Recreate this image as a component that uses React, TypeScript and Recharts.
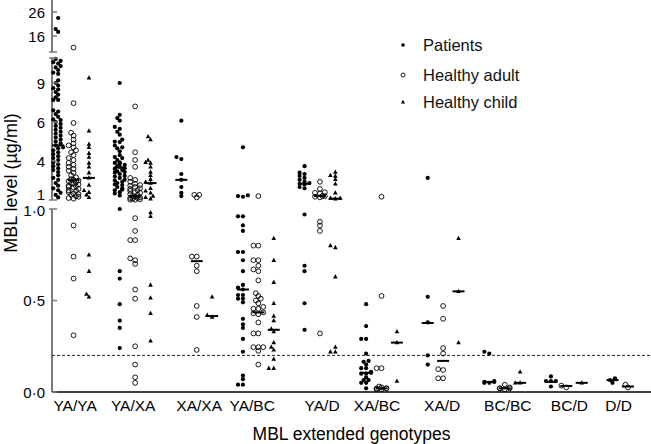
import React from 'react'
import { ScatterChart, Scatter, XAxis, YAxis, ReferenceLine, Legend } from 'recharts'

const FONT = '"Liberation Sans", Arial, Helvetica, sans-serif'

const genotypes = ['YA/YA', 'YA/XA', 'XA/XA', 'YA/BC', 'YA/D', 'XA/BC', 'XA/D', 'BC/BC', 'BC/D', 'D/D']
// where the genotype names sit along the x axis (column units)
const genotypeLabelAt = [1.1, 4.87, 9.16, 12.6, 17.14, 20.71, 24.94, 29.2, 33.2, 36.4]

// MBL level (µg/ml), one list per genotype
const patients = [
    [23.5, 18.9, 17.7, 10.85, 10.7, 10.6, 10.5, 10.3, 10.2, 10.0, 9.8, 9.7, 9.2, 9.0, 8.8, 8.6, 8.5, 8.3, 8.1, 7.9, 7.7, 7.7,
        6.9, 6.8, 6.6, 6.4, 6.2, 6.15, 6.0, 5.9, 5.8, 5.7, 5.6, 5.5, 5.4, 5.3, 5.2, 5.1, 5.0, 4.9, 4.8, 4.7, 4.65, 4.55, 4.45,
        4.35, 4.25, 4.15, 4.05, 3.9, 3.75, 3.6, 3.45, 3.3, 3.15, 2.9, 2.7, 2.55, 2.3, 2.1, 1.9, 1.75, 1.55, 1.4, 1.2],
    [9.0, 6.55, 6.3, 6.1, 5.75, 5.65, 5.5, 5.35, 5.1, 5.0, 4.97, 4.8, 4.7, 4.65, 4.5, 4.3, 4.2, 4.15, 4.05, 3.9, 3.85, 3.8,
        3.7, 3.6, 3.55, 3.45, 3.4, 3.3, 3.2, 3.15, 3.1, 3.0, 2.85, 2.8, 2.7, 2.55, 2.5, 2.4, 2.3, 2.2, 2.15, 2.0, 1.9, 1.8,
        1.75, 1.6, 1.5, 1.35, 1.0, 0.66, 0.62, 0.48, 0.39, 0.35, 0.24],
    [6.1, 4.2, 4.1, 3.0, 2.55, 2.0, 1.55, 1.3],
    [4.7, 1.35, 1.3, 1.25, 0.96, 0.96, 0.91, 0.88, 0.765, 0.765, 0.72, 0.66, 0.585, 0.57, 0.56, 0.53, 0.53, 0.51, 0.51,
        0.49, 0.4, 0.37, 0.35, 0.29, 0.22, 0.09, 0.07, 0.04, 0.04],
    [3.6, 3.1, 3.0, 2.85, 2.7, 2.55, 2.4, 2.3, 2.25, 2.2, 2.0, 1.9, 0.97, 0.69, 0.66, 0.485, 0.34],
    [0.48, 0.36, 0.29, 0.29, 0.21, 0.17, 0.165, 0.15, 0.13, 0.13, 0.11, 0.105, 0.1, 0.1, 0.08, 0.065, 0.065, 0.05, 0.05, 0.02],
    [2.7, 0.52, 0.38, 0.2, 0.15],
    [0.22, 0.21, 0.06, 0.055, 0.055, 0.05, 0.05],
    [0.085, 0.06, 0.06, 0.06, 0.03],
    [0.075, 0.065, 0.05],
]

const adults = [
    [11.2, 7.45, 5.95, 5.45, 5.3, 5.1, 4.9, 4.8, 4.7, 4.55, 4.45, 4.3, 4.15, 4.05, 3.85, 3.7, 3.55, 3.4, 3.25, 3.1, 2.9,
        2.75, 2.6, 2.55, 2.5, 2.45, 2.4, 2.3, 2.25, 2.2, 2.1, 2.05, 2.0, 1.95, 1.85, 1.75, 1.7, 1.6, 1.5, 1.45, 1.4, 1.3,
        1.25, 1.15, 1.1, 0.91, 0.74, 0.62, 0.31],
    [7.2, 4.45, 4.05, 3.55, 2.7, 2.55, 2.4, 2.25, 2.15, 2.1, 2.0, 1.9, 1.85, 1.75, 1.7, 1.6, 1.55, 1.45, 1.4, 1.3, 1.25,
        1.2, 1.15, 1.15, 1.1, 1.05, 1.02, 1.02, 0.95, 0.88, 0.83, 0.83, 0.73, 0.72, 0.7, 0.56, 0.51, 0.25, 0.15, 0.08, 0.05],
    [1.4, 1.4, 1.2, 0.74, 0.74, 0.69, 0.66, 0.47, 0.41, 0.23],
    [1.3, 0.8, 0.8, 0.72, 0.72, 0.69, 0.67, 0.66, 0.61, 0.54, 0.525, 0.51, 0.5, 0.485, 0.465, 0.455, 0.455, 0.435, 0.43,
        0.425, 0.38, 0.32, 0.32, 0.245, 0.245, 0.245, 0.225, 0.15],
    [2.4, 1.85, 1.6, 1.55, 1.5, 1.3, 1.3, 1.25, 1.2, 0.93, 0.91, 0.88, 0.32],
    [1.25, 0.525, 0.13, 0.13, 0.03, 0.025, 0.02, 0.02, 0.02, 0.015, 0.015],
    [0.47, 0.4, 0.24, 0.21, 0.125, 0.12, 0.075, 0.075],
    [0.04, 0.025, 0.02, 0.02, 0.02, 0.015],
    [0.035, 0.025],
    [0.04, 0.025],
]

const children = [
    [9.4, 5.55, 4.87, 4.7, 4.4, 4.2, 3.85, 3.55, 3.1, 2.7, 2.15, 1.75, 1.6, 1.4, 1.2, 0.75, 0.66, 0.535, 0.52],
    [5.25, 5.1, 4.05, 3.9, 3.85, 3.55, 3.15, 2.9, 2.6, 2.4, 2.3, 1.9, 1.7, 1.55, 1.3, 1.2, 1.1, 0.98, 0.96, 0.585,
        0.515, 0.43, 0.28],
    [0.52, 0.42, 0.41],
    [0.84, 0.72, 0.6, 0.485, 0.415, 0.39, 0.345, 0.33, 0.27, 0.245, 0.23, 0.18, 0.13, 0.13],
    [3.15, 2.9, 2.85, 2.6, 2.25, 1.55, 1.15, 1.15, 1.1, 0.8, 0.79, 0.63, 0.245, 0.22, 0.22],
    [0.33, 0.27, 0.06],
    [0.84, 0.55, 0.27],
    [0.11, 0.05, 0.05],
    [0.05],
    [],
]

const patientMedians = [4.8, 3.5, 2.55, 0.56, 2.25, 0.105, 0.377, 0.055, 0.055, 0.065]
const adultMedians = [2.55, 1.3, 0.715, 0.435, 1.3, 0.02, 0.17, 0.02, 0.033, 0.03]
const childMedians = [2.7, 2.3, 0.415, 0.34, 1.1, 0.27, 0.55, 0.05, 0.05, null]

const cutoff = 0.2

// y axis ticks: value + which piece of the broken axis it belongs to
const yTickValues = [0, 0.5, 1.0, 1, 4, 6, 9, 16, 26]
const yTickLabels = ['0·0', '0·5', '1·0', '1', '4', '6', '9', '16', '26']
const yTickPiece = ['low', 'low', 'low', 'mid', 'mid', 'mid', 'mid', 'top', 'top']

// ---- broken axis: three pieces stacked on one axis (units ~ px) ----
const MID_KNOTS: [number, number][] = [[1, 192], [4, 231], [6, 270], [9, 309]]
const pieceOf = (v: number) => (v <= 1.0 ? 'low' : v < 10.95 ? 'mid' : 'top')
function toAxis(v: number, piece = pieceOf(v)) {
    if (piece === 'low') return v * 183
    if (piece === 'top') return 356 + (v - 16) * 2.4
    if (v >= 9) return 309 + (v - 9) * 13
    for (let i = 0; i < MID_KNOTS.length - 1; i++) {
        const [a, pa] = MID_KNOTS[i]
        const [b, pb] = MID_KNOTS[i + 1]
        if (v <= b) return pa + ((v - a) / (b - a)) * (pb - pa)
    }
    return 309
}
const AXIS_PIECES: [number, number][] = [[0, 183], [192, 334], [340, 392]]
const BREAK_TICKS = [334, 340]

const X_MIN = -0.4
const X_MAX = 38.5
const PX_PER_X = 599 / (X_MAX - X_MIN)

// simple beeswarm so overlapping points spread sideways a little
function swarm(values: number[], col: number) {
    const placed: { x: number; y: number }[] = []
    const offsets = [0, -0.16, 0.16, -0.32, 0.32]
    ;[...values].sort((a, b) => a - b).forEach((v) => {
        const y = toAxis(v)
        let x = col + offsets[placed.length % offsets.length]
        for (const o of offsets) {
            const ok = placed.every((p) => Math.hypot((p.x - (col + o)) * PX_PER_X, p.y - y) >= 3.2)
            if (ok) { x = col + o; break }
        }
        placed.push({ x, y })
    })
    return placed
}

const patientPts = patients.flatMap((vals, g) => swarm(vals, g * 4))
const adultPts = adults.flatMap((vals, g) => swarm(vals, g * 4 + 1))
const childPts = children.flatMap((vals, g) => swarm(vals, g * 4 + 2))
const medianPts = [
    ...patientMedians.map((m, g) => (m == null ? null : { x: g * 4, y: toAxis(m) })),
    ...adultMedians.map((m, g) => (m == null ? null : { x: g * 4 + 1, y: toAxis(m) })),
    ...childMedians.map((m, g) => (m == null ? null : { x: g * 4 + 2, y: toAxis(m) })),
].filter(Boolean) as { x: number; y: number }[]

const yTicks = [
    ...yTickValues.map((v, i) => ({ pos: toAxis(v, yTickPiece[i]), label: yTickLabels[i] })),
    ...BREAK_TICKS.map((pos) => ({ pos, label: '' })),
]
// ticks at the ends of an axis piece cross the line; "1" and "1·0" are nudged apart
const crossTicks = ['1', '1·0', '']
const labelShift: Record<string, number> = { '1': -5.5, '1·0': 1.5 }

const Dot = ({ cx, cy }: any) => <circle cx={cx} cy={cy} r={2.1} fill="#000" />
const Ring = ({ cx, cy }: any) => <circle cx={cx} cy={cy} r={2.4} fill="none" stroke="#000" strokeWidth={0.9} />
const Tri = ({ cx, cy }: any) => <path d={`M${cx},${cy - 2.6}L${cx + 2.3},${cy + 1.7}L${cx - 2.3},${cy + 1.7}Z`} fill="#000" />
const Median = ({ cx, cy }: any) => <line x1={cx - 6} x2={cx + 6} y1={cy} y2={cy} stroke="#000" strokeWidth={2} />

const YTick = ({ x, y, payload }: any) => {
    const t = yTicks.find((k) => Math.abs(k.pos - payload.value) < 0.01)
    const cross = t ? crossTicks.includes(t.label) : false
    return (
        <g>
            <line x1={cross ? x - 3 : x} x2={x + 5} y1={y} y2={y} stroke="#7a7a7a" strokeWidth={1.5} />
            {t && t.label && (
                <text x={x - 7} y={y + (labelShift[t.label] ?? 0)} textAnchor="end" dominantBaseline="central" fontSize={15} fill="#000" fontFamily={FONT}>
                    {t.label}
                </text>
            )}
        </g>
    )
}

const legendItems = [
    { name: 'Patients', top: 36, sym: <circle cx={5} cy={5} r={1.8} fill="#000" /> },
    { name: 'Healthy adult', top: 66, sym: <circle cx={5} cy={5} r={2} fill="none" stroke="#000" strokeWidth={0.9} /> },
    { name: 'Healthy child', top: 93, sym: <path d="M5,2.8L7,6.4L3,6.4Z" fill="#000" /> },
]

const renderLegend = () => (
    <div style={{ position: 'relative', fontFamily: FONT, fontSize: 16.5, color: '#111' }}>
        {legendItems.map((it) => (
            <div key={it.name} style={{ position: 'absolute', left: 0, top: it.top, display: 'flex', alignItems: 'center', whiteSpace: 'nowrap', height: 18 }}>
                <svg width={10} height={10} style={{ marginRight: 15 }}>{it.sym}</svg>
                {it.name}
            </div>
        ))}
    </div>
)

const YTitle = () => (
    <text transform="translate(11,183) rotate(-90)" textAnchor="middle" dominantBaseline="central" fontSize={18} fontFamily={FONT} fill="#000">
        MBL level (µg/ml)
    </text>
)

export default function App() {
    return (
        <div style={{ position: 'absolute', left: 0, top: 0, width: 651, height: 444, background: '#fff' }}>
            <ScatterChart width={651} height={444} margin={{ top: 0, right: 0, bottom: 0, left: 0 }}>
                <XAxis
                    type="number"
                    dataKey="x"
                    domain={[X_MIN, X_MAX]}
                    ticks={genotypeLabelAt}
                    interval={0}
                    tickFormatter={(_v: number, i: number) => genotypes[i]}
                    tickLine={false}
                    tickSize={0}
                    tickMargin={8}
                    axisLine={{ stroke: '#000', strokeWidth: 1.5 }}
                    tick={{ fontSize: 15.5, fill: '#000', fontFamily: FONT }}
                    height={52}
                    label={{ value: 'MBL extended genotypes', position: 'insideBottom', offset: 4, fontSize: 17.5, fill: '#000', fontFamily: FONT }}
                />
                <YAxis
                    type="number"
                    dataKey="y"
                    domain={[0, 392]}
                    ticks={yTicks.map((t) => t.pos)}
                    interval={0}
                    width={52}
                    tickSize={0}
                    tickMargin={0}
                    axisLine={false}
                    tickLine={false}
                    tick={<YTick />}
                    label={{ content: () => <YTitle /> }}
                />
                {AXIS_PIECES.map(([a, b]) => (
                    <ReferenceLine
                        key={a}
                        segment={[{ x: X_MIN, y: a }, { x: X_MIN, y: b }]}
                        stroke="#7a7a7a"
                        strokeWidth={2}
                        ifOverflow="visible"
                    />
                ))}
                <ReferenceLine y={toAxis(cutoff)} stroke="#222" strokeWidth={1} strokeDasharray="3 2" />
                <Legend layout="horizontal" verticalAlign="middle" align="center" content={renderLegend} wrapperStyle={{ left: 398, top: 0, width: 200, height: 10 }} />
                <Scatter name="Patients" data={patientPts} shape={<Dot />} isAnimationActive={false} />
                <Scatter name="Healthy adult" data={adultPts} shape={<Ring />} isAnimationActive={false} />
                <Scatter name="Healthy child" data={childPts} shape={<Tri />} isAnimationActive={false} />
                <Scatter name="median" data={medianPts} shape={<Median />} isAnimationActive={false} legendType="none" />
            </ScatterChart>
        </div>
    )
}
